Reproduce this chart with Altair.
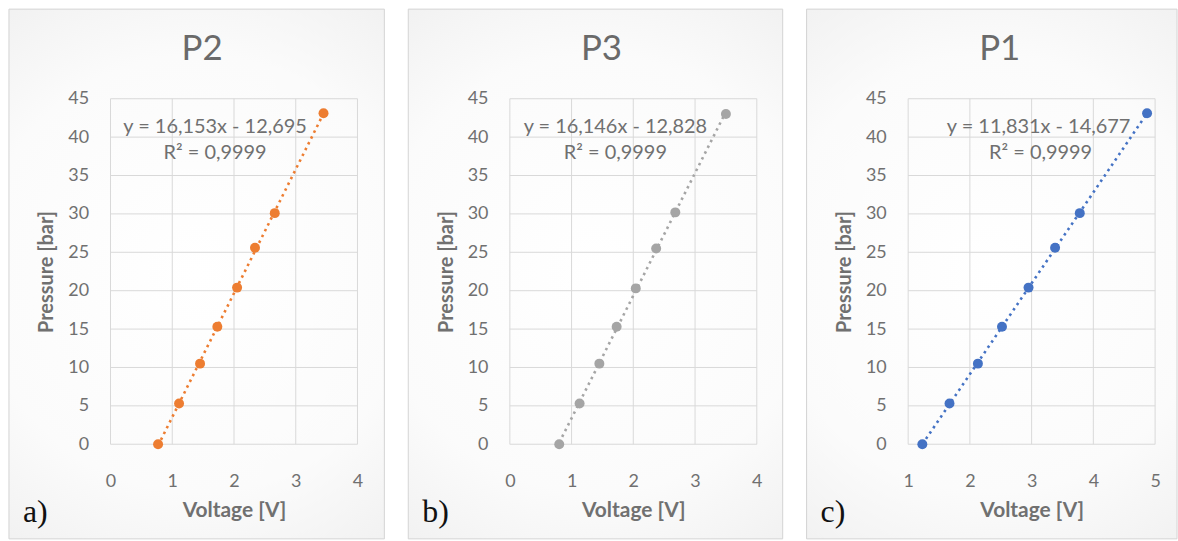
import altair as alt
import pandas as pd

# ---- data ----
P2_V = [0.77, 1.11, 1.45, 1.73, 2.05, 2.34, 2.66, 3.45]
P2_P = [0.0, 5.3, 10.5, 15.3, 20.4, 25.6, 30.1, 43.1]

P3_V = [0.80, 1.13, 1.45, 1.73, 2.04, 2.37, 2.68, 3.50]
P3_P = [0.0, 5.3, 10.5, 15.3, 20.3, 25.5, 30.2, 43.0]

P1_V = [1.23, 1.67, 2.13, 2.52, 2.95, 3.38, 3.78, 4.87]
P1_P = [0.0, 5.3, 10.5, 15.3, 20.4, 25.6, 30.1, 43.1]

Y_TICKS = [0, 5, 10, 15, 20, 25, 30, 35, 40, 45]
X_TICKS_A = [0, 1, 2, 3, 4]
X_TICKS_C = [1, 2, 3, 4, 5]

TITLES = ["P2", "P3", "P1"]
EQUATIONS = ["y = 16,153x - 12,695", "y = 16,146x - 12,828", "y = 11,831x - 14,677"]
R2_TEXT = ["R² = 0,9999", "R² = 0,9999", "R² = 0,9999"]
LETTERS = ["a)", "b)", "c)"]
COLORS = ["#ed7d31", "#a5a5a5", "#4472c4"]

TEXT_GREY = "#707070"
GRID = "#d9d9d9"
W, H = 248, 347

gradient = {
    "gradient": "radial",
    "x1": 0.5, "y1": 0.5, "r1": 0.0,
    "x2": 0.5, "y2": 0.5, "r2": 0.75,
    "stops": [
        {"offset": 0.0, "color": "#ffffff"},
        {"offset": 0.55, "color": "#fbfbfb"},
        {"offset": 1.0, "color": "#ebebeb"},
    ],
}


def one():
    return pd.DataFrame({"k": [0]})


def panel(i, V, P, xticks, eq_dx, r2_dx, right_edge):
    df = pd.DataFrame({"V": V, "P": P})
    xs = alt.Scale(domain=[xticks[0], xticks[-1]], nice=False, zero=False)
    ys = alt.Scale(domain=[0, 45], nice=False)
    xt = "Voltage [V]"
    yt = "Pressure [bar]"
    x_axis = alt.Axis(values=xticks, labelPadding=28, titlePadding=10, zindex=1, labelFlush=False,
                      grid=False, domain=False, ticks=False, titleFontSize=21)
    y_axis = alt.Axis(values=Y_TICKS, labelPadding=22, titlePadding=11, zindex=1, labelFlush=False,
                      grid=False, domain=False, ticks=False)

    bg = alt.Chart(one()).mark_rect(fill=gradient, stroke="#d4d4d4", strokeWidth=1).encode(
        x=alt.value(-102), x2=alt.value(right_edge), y=alt.value(-90), y2=alt.value(442)
    )
    vgrid = alt.Chart(pd.DataFrame({"t": xticks})).mark_rule(color=GRID, strokeWidth=1).encode(
        x=alt.X("t:Q", scale=xs, title=xt, axis=x_axis)
    )
    hgrid = alt.Chart(pd.DataFrame({"t": Y_TICKS})).mark_rule(color=GRID, strokeWidth=1).encode(
        y=alt.Y("t:Q", scale=ys, title=yt, axis=y_axis)
    )
    trend = alt.Chart(df).transform_regression("V", "P").mark_line(
        color=COLORS[i], strokeWidth=2.6, strokeDash=[2.5, 4]
    ).encode(
        x=alt.X("V:Q", scale=xs, title=xt, axis=x_axis),
        y=alt.Y("P:Q", scale=ys, title=yt, axis=y_axis),
    )
    pts = alt.Chart(df).mark_circle(color=COLORS[i], size=100, opacity=1).encode(
        x=alt.X("V:Q", scale=xs, title=xt, axis=x_axis),
        y=alt.Y("P:Q", scale=ys, title=yt, axis=y_axis),
    )
    title = alt.Chart(one()).mark_text(
        text=TITLES[i], font="Lato", fontSize=35, color="#6a6a6a",
        align="center", baseline="middle"
    ).encode(x=alt.value(92), y=alt.value(-50))
    eq = alt.Chart(one()).mark_text(
        text=EQUATIONS[i], font="Lato", fontSize=20, color=TEXT_GREY, align="center", baseline="middle"
    ).encode(x=alt.value(eq_dx), y=alt.value(28))
    r2 = alt.Chart(one()).mark_text(
        text=R2_TEXT[i], font="Lato", fontSize=20, color=TEXT_GREY, align="center", baseline="middle"
    ).encode(x=alt.value(r2_dx), y=alt.value(55))
    letter = alt.Chart(one()).mark_text(
        text=LETTERS[i], font="Liberation Serif", fontSize=32, color="#111111", align="left",
        baseline="alphabetic"
    ).encode(x=alt.value(-88), y=alt.value(425))

    return alt.layer(bg, vgrid, hgrid, trend, pts, title, eq, r2, letter).properties(width=W, height=H)


c1 = panel(0, P2_V, P2_P, X_TICKS_A, 105, 105, 275)
c2 = panel(1, P3_V, P3_P, X_TICKS_A, 106, 106, 274)
c3 = panel(2, P1_V, P1_P, X_TICKS_C, 131, 133, 270)

chart = alt.hconcat(c1, c2, c3, spacing=22).properties(
    padding={"left": 8, "top": 7, "right": 0, "bottom": 0},
    background="#ffffff",
).configure_view(stroke=None).configure_axis(
    labelFont="Lato", labelFontSize=18, labelColor=TEXT_GREY,
    titleFont="Lato", titleFontSize=20, titleFontWeight="bold", titleColor=TEXT_GREY,
)

chart.save("out.html", embed_options={"renderer": "svg", "actions": False})
